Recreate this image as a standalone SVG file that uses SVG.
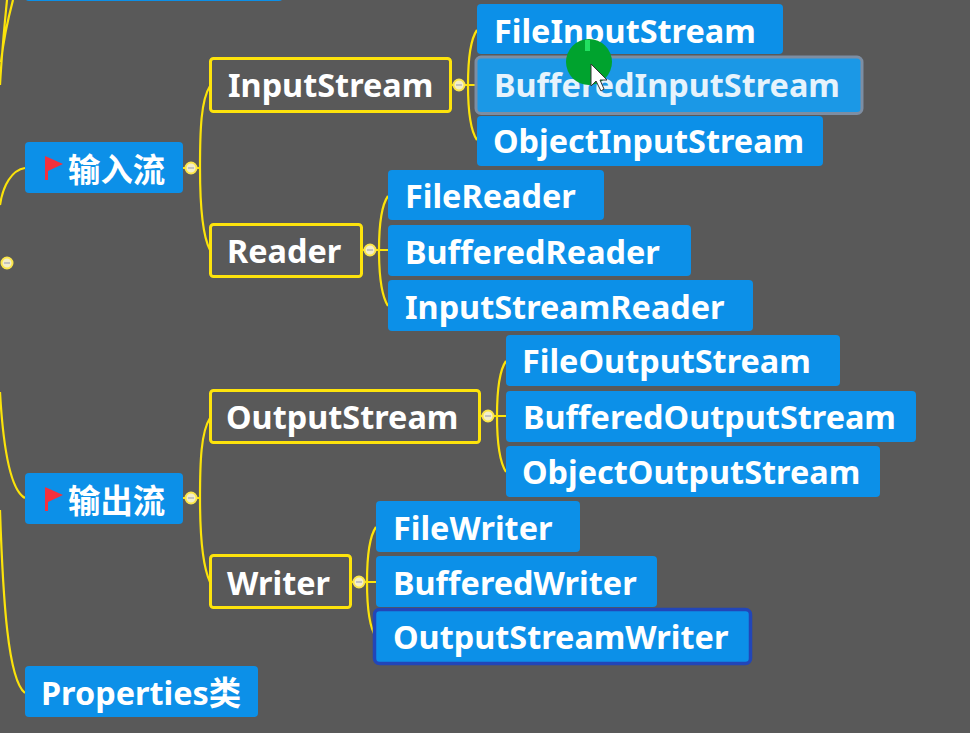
<svg xmlns="http://www.w3.org/2000/svg" width="970" height="733" viewBox="0 0 970 733">
<style>
.bg{fill:#595959}
.n{fill:#0c90e8}
.o{fill:#595959;stroke:#fde30c;stroke-width:3}
.t{font-family:"Noto Sans","Noto Sans CJK SC",sans-serif;font-weight:700;font-size:32.4px;fill:#fff}
.c{fill:none;stroke:#fbe30a;stroke-width:2.2}
.k{fill:#f4eec8;stroke:#fbe64a;stroke-width:2}
.m{stroke:#b4b4bc;stroke-width:1.500}
.f{fill:#f5303c}
</style>
<rect class="bg" width="970" height="733"/>
<g id="connectors">
<path class="c" d="M0 205C3 185 12 170 25 168"/>
<path class="c" d="M0 392C3 445 10 490 25 498"/>
<path class="c" d="M0 510C3 600 8 680 25 693"/>
<path class="c" d="M0 85C2 50 5 20 7 0M1 62C4 35 9 15 13 0"/>
<path class="c" d="M183 168H199M210 86C201 100 200 130 200 168C200 205 202 235 210 250"/>
<path class="c" d="M183 498H199M210 418C201 432 200 462 200 498C200 535 202 565 210 582"/>
<path class="c" d="M451 85H477M477 30C470 40 468 60 468 85C468 110 470 130 477 140"/>
<path class="c" d="M362 250H388M388 196C381 206 379 226 379 250C379 275 381 295 388 306"/>
<path class="c" d="M480 416H506M506 361C499 371 497 391 497 416C497 441 499 461 506 472"/>
<path class="c" d="M351 582H376M376 527C369 537 367 557 367 582C367 607 369 627 376 637"/>
</g>
<g id="root-toggle"><circle class="k" cx="7" cy="263" r="5.500"/><path class="m" d="M4 263H10"/></g>
<g id="n-top"><rect class="n" x="25" y="-40" width="258" height="41" rx="4"/></g>
<g id="n-input"><rect class="n" x="25" y="142" width="158" height="51" rx="4"/><path class="f" d="M45 156L63 164L48 171V180H45Z"/><text class="t" x="68" y="182">输入流</text><circle class="k" cx="191" cy="168" r="5.500"/><path class="m" d="M188 168H194"/></g>
<g id="n-output"><rect class="n" x="25" y="473" width="158" height="51" rx="4"/><path class="f" d="M45 487L63 495L48 502V511H45Z"/><text class="t" x="68" y="513">输出流</text><circle class="k" cx="191" cy="498" r="5.500"/><path class="m" d="M188 498H194"/></g>
<g id="n-props"><rect class="n" x="25" y="666" width="233" height="51" rx="4"/><text class="t" x="41" y="705">Properties类</text></g>
<g id="n-inputstream"><rect class="o" x="210.500" y="58.500" width="240" height="53" rx="3"/><text class="t" x="228" y="97">InputStream</text><circle class="k" cx="459" cy="85" r="5.500"/><path class="m" d="M456 85H462"/></g>
<g id="n-reader"><rect class="o" x="210.500" y="224.500" width="151" height="52" rx="3"/><text class="t" x="227" y="263">Reader</text><circle class="k" cx="370" cy="250" r="5.500"/><path class="m" d="M367 250H373"/></g>
<g id="n-outputstream"><rect class="o" x="210.500" y="390.500" width="269" height="52" rx="3"/><text class="t" x="226" y="429">OutputStream</text><circle class="k" cx="488" cy="416" r="5.500"/><path class="m" d="M485 416H491"/></g>
<g id="n-writer"><rect class="o" x="210.500" y="555.500" width="140" height="52" rx="3"/><text class="t" x="227" y="595">Writer</text><circle class="k" cx="359" cy="582" r="5.500"/><path class="m" d="M356 582H362"/></g>
<g id="n-fis"><rect class="n" x="477" y="4" width="306" height="50" rx="4"/><text class="t" x="494" y="43">FileInputStream</text></g>
<g id="n-ois"><rect class="n" x="477" y="116" width="346" height="50" rx="4"/><text class="t" x="493" y="153">ObjectInputStream</text></g>
<g id="n-bis"><rect x="476" y="57" width="386" height="56.500" rx="5" fill="#1b98e6" stroke="#7d8ea3" stroke-width="3"/><text class="t" x="494" y="97" style="fill:#e6f3fc">BufferedInputStream</text><circle cx="589" cy="62" r="23" fill="#00a32e"/><rect x="585" y="40" width="5" height="11" fill="#22e060"/><path d="M591 64V86L596 81L601 91L604 89L600 80H607Z" fill="#fff" stroke="#333" stroke-width="1"/></g>
<g id="n-fr"><rect class="n" x="388" y="170" width="216" height="50" rx="4"/><text class="t" x="405" y="208">FileReader</text></g>
<g id="n-br"><rect class="n" x="388" y="225" width="303" height="51" rx="4"/><text class="t" x="405" y="264">BufferedReader</text></g>
<g id="n-isr"><rect class="n" x="388" y="280" width="365" height="51" rx="4"/><text class="t" x="405" y="319">InputStreamReader</text></g>
<g id="n-fos"><rect class="n" x="506" y="335" width="334" height="51" rx="4"/><text class="t" x="522" y="373">FileOutputStream</text></g>
<g id="n-bos"><rect class="n" x="506" y="391" width="410" height="51" rx="4"/><text class="t" x="523" y="429">BufferedOutputStream</text></g>
<g id="n-oos"><rect class="n" x="506" y="446" width="374" height="51" rx="4"/><text class="t" x="522" y="484">ObjectOutputStream</text></g>
<g id="n-fw"><rect class="n" x="376" y="501" width="204" height="51" rx="4"/><text class="t" x="393" y="540">FileWriter</text></g>
<g id="n-bw"><rect class="n" x="376" y="556" width="281" height="51" rx="4"/><text class="t" x="393" y="595">BufferedWriter</text></g>
<g id="n-osw"><rect class="n" x="374.500" y="609.500" width="376" height="54" rx="5" stroke="#2246b8" stroke-width="3.500"/><text class="t" x="393" y="649">OutputStreamWriter</text></g>
</svg>
